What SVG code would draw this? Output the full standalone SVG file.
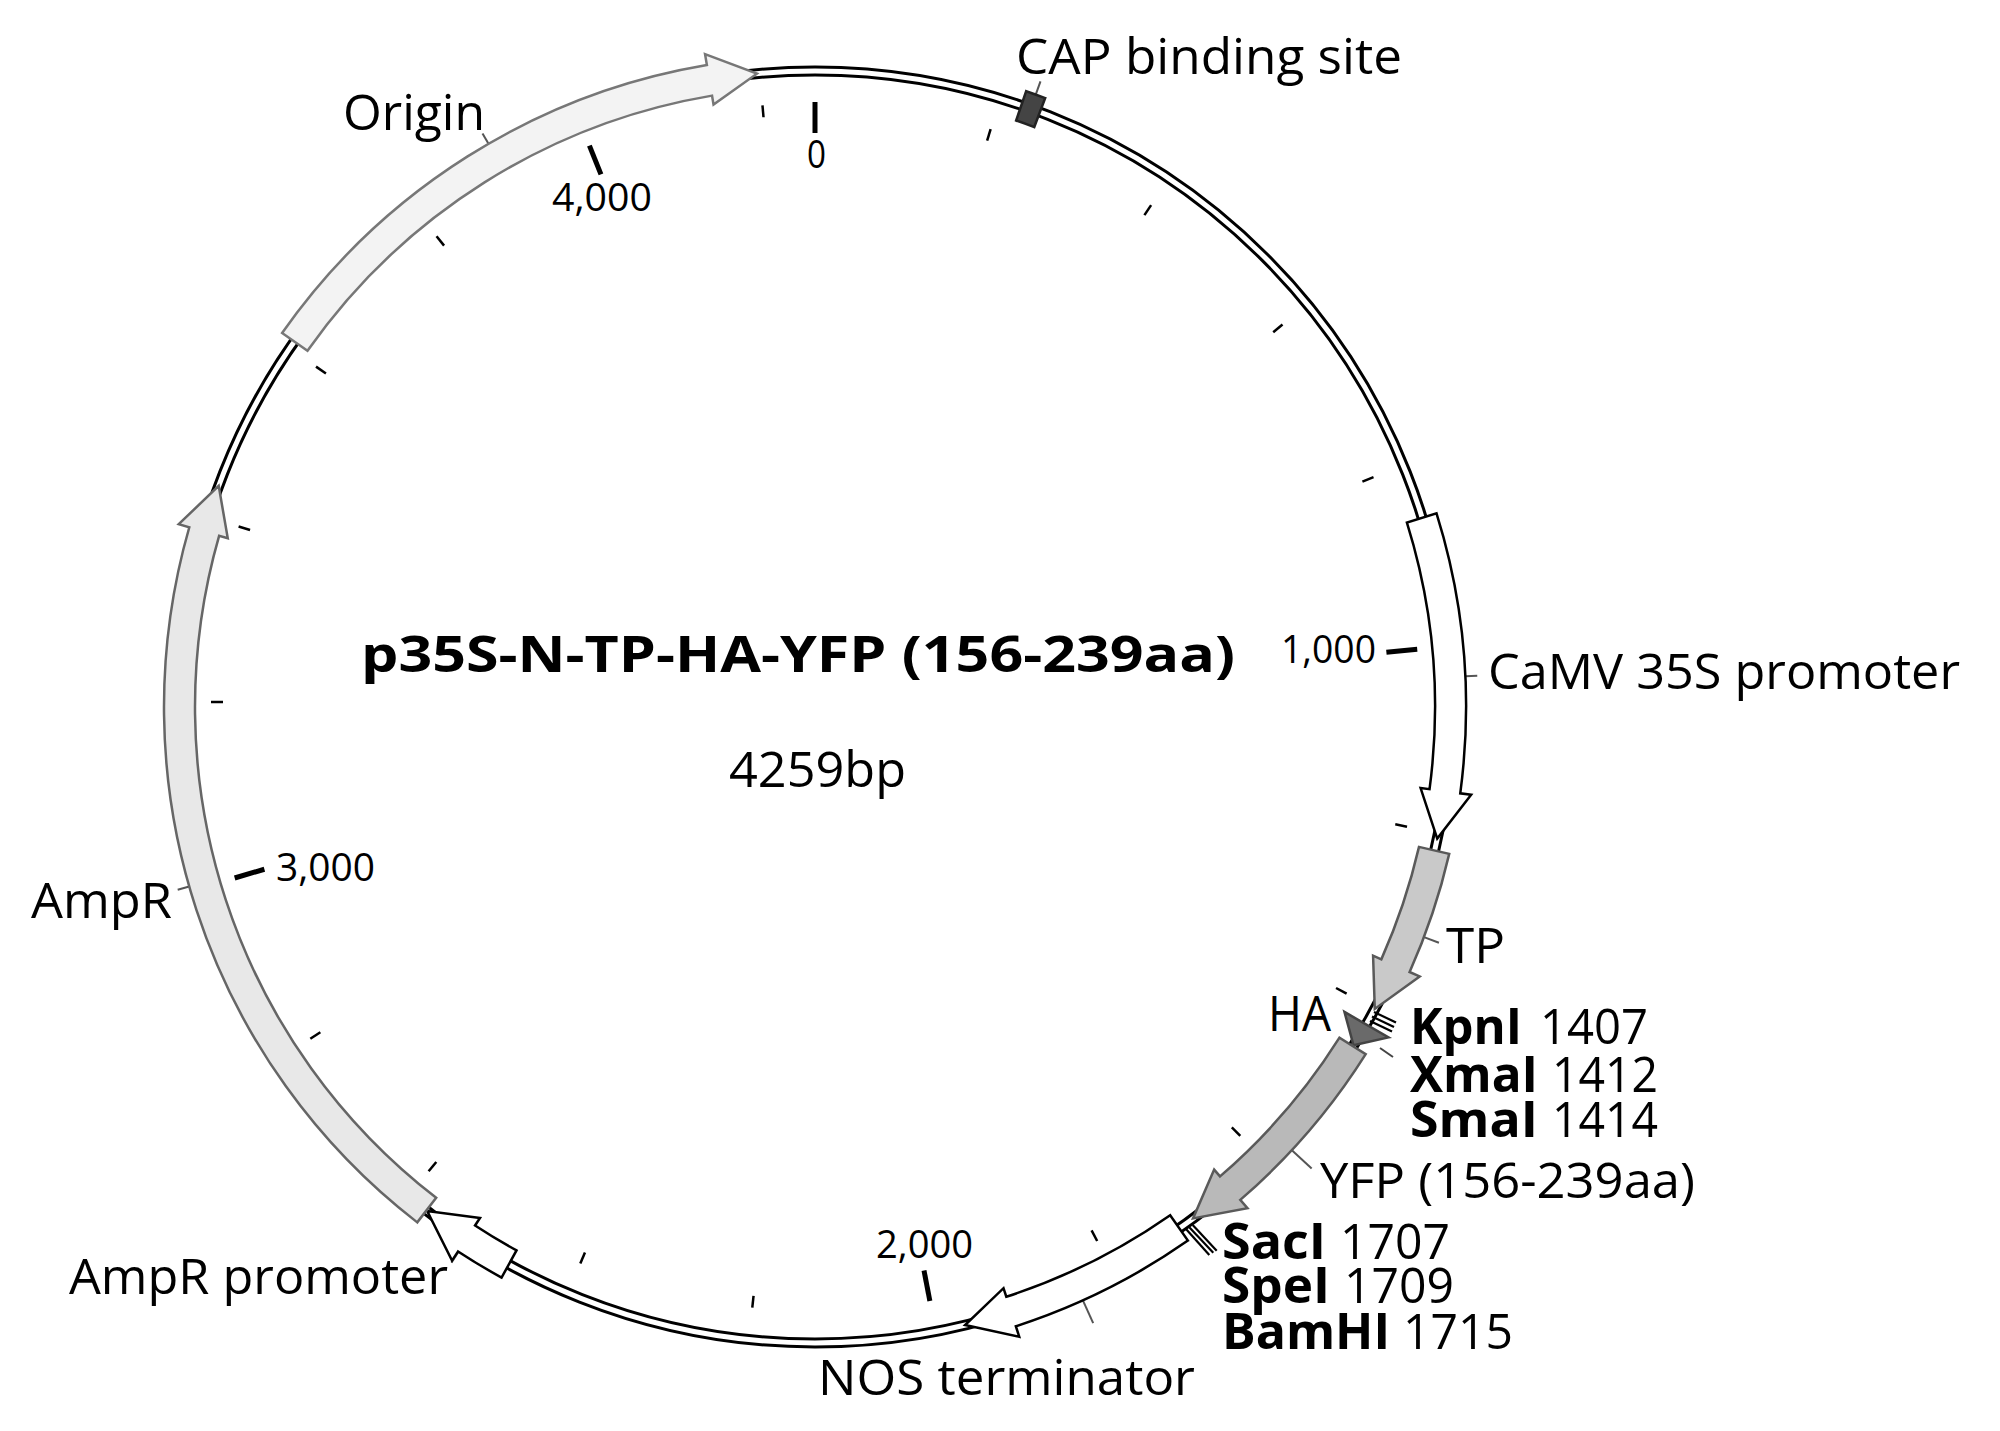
<svg xmlns="http://www.w3.org/2000/svg" width="2000" height="1431" viewBox="0 0 2000 1431">
<style>
text{font-family:"Open Sans","Noto Sans","Liberation Sans",sans-serif;fill:#000}
.lbl{font-size:50px}
.tk{font-size:38px}
.b{font-weight:bold}
.feat{stroke-width:2.5;stroke-linejoin:miter;stroke-miterlimit:10}
.mi{stroke:#000;stroke-width:2.5}
.ma{stroke:#000;stroke-width:5}
.ld{stroke:#555;stroke-width:2}
.cut{stroke:#000;stroke-width:2.2}
</style>
<rect width="2000" height="1431" fill="#fff"/>
<g id="backbone">
<circle cx="815" cy="707" r="636" fill="none" stroke="#000" stroke-width="11"/>
<circle cx="815" cy="707" r="636" fill="none" stroke="#fff" stroke-width="5"/>
</g>
<g id="ticks">
<line class="mi" x1="815" y1="103" x2="815" y2="115" transform="rotate(16.905 815 707)"/>
<line class="mi" x1="815" y1="103" x2="815" y2="115" transform="rotate(33.811 815 707)"/>
<line class="mi" x1="815" y1="103" x2="815" y2="115" transform="rotate(50.716 815 707)"/>
<line class="mi" x1="815" y1="103" x2="815" y2="115" transform="rotate(67.622 815 707)"/>
<line class="mi" x1="815" y1="103" x2="815" y2="115" transform="rotate(101.432 815 707)"/>
<line class="mi" x1="815" y1="103" x2="815" y2="115" transform="rotate(118.338 815 707)"/>
<line class="mi" x1="815" y1="103" x2="815" y2="115" transform="rotate(135.243 815 707)"/>
<line class="mi" x1="815" y1="103" x2="815" y2="115" transform="rotate(152.148 815 707)"/>
<line class="mi" x1="815" y1="103" x2="815" y2="115" transform="rotate(185.959 815 707)"/>
<line class="mi" x1="815" y1="103" x2="815" y2="115" transform="rotate(202.865 815 707)"/>
<line class="mi" x1="815" y1="103" x2="815" y2="115" transform="rotate(219.770 815 707)"/>
<line class="mi" x1="815" y1="103" x2="815" y2="115" transform="rotate(236.675 815 707)"/>
<line class="mi" x1="815" y1="103" x2="815" y2="115" transform="rotate(270.486 815 707)"/>
<line class="mi" x1="815" y1="103" x2="815" y2="115" transform="rotate(287.391 815 707)"/>
<line class="mi" x1="815" y1="103" x2="815" y2="115" transform="rotate(304.297 815 707)"/>
<line class="mi" x1="815" y1="103" x2="815" y2="115" transform="rotate(321.202 815 707)"/>
<line class="mi" x1="815" y1="103" x2="815" y2="115" transform="rotate(355.011 815 707)"/>
<line class="ma" x1="815" y1="102" x2="815" y2="133"/>
<line class="ma" x1="815" y1="102" x2="815" y2="133" transform="rotate(84.527 815 707)"/>
<line class="ma" x1="815" y1="102" x2="815" y2="133" transform="rotate(169.054 815 707)"/>
<line class="ma" x1="815" y1="102" x2="815" y2="133" transform="rotate(253.581 815 707)"/>
<line class="ma" x1="815" y1="102" x2="815" y2="133" transform="rotate(338.107 815 707)"/>
<text class="tk" x="807" y="168" textLength="19" lengthAdjust="spacingAndGlyphs">0</text>
<text class="tk" x="1281" y="663" textLength="95" lengthAdjust="spacingAndGlyphs">1,000</text>
<text class="tk" x="876" y="1258" textLength="97" lengthAdjust="spacingAndGlyphs">2,000</text>
<text class="tk" x="276" y="881" textLength="99" lengthAdjust="spacingAndGlyphs">3,000</text>
<text class="tk" x="552" y="211" textLength="100" lengthAdjust="spacingAndGlyphs">4,000</text>
</g>
<g id="leaders">
<line class="ld" x1="815" y1="56" x2="815" y2="44" transform="rotate(329.9 815 707)"/>
<line class="ld" x1="815" y1="56" x2="815" y2="44" transform="rotate(254.0 815 707)"/>
<line class="ld" x1="815" y1="56" x2="815" y2="43" transform="rotate(213.2 815 707)"/>
<line class="ld" x1="815" y1="56" x2="815" y2="31" transform="rotate(155.7 815 707)"/>
<line class="ld" x1="815" y1="56" x2="815" y2="29" transform="rotate(132.9 815 707)"/>
<line class="ld" x1="815" y1="56" x2="815" y2="40" transform="rotate(110.7 815 707)"/>
<line class="ld" x1="815" y1="56" x2="815" y2="44" transform="rotate(87.3 815 707)"/>
<line class="ld" x1="815" y1="56" x2="815" y2="42" transform="rotate(19.82 815 707)"/>
<line x1="1380" y1="1048" x2="1393" y2="1057" stroke="#444" stroke-width="2"/>
</g>
<g id="cap-binding-site">
<path class="feat" d="M815,56 A651,651 0 0 1 835.22,56.31 L834.26,87.30 A620,620 0 0 0 815,87 Z" fill="#444" stroke="#222" transform="rotate(18.93 815 707)"/>
<text class="lbl" x="1016" y="74" textLength="386" lengthAdjust="spacingAndGlyphs">CAP binding site</text>
</g>
<g id="camv-35s-promoter">
<path class="feat" d="M540.60,116.65 A651,651 0 0 1 815,56 L815,45 L862.91,72.81 L815,96 L815,87 A620,620 0 0 0 553.66,144.77 Z" fill="#fff" stroke="#000" transform="rotate(97.62 815 707)"/>
<text class="lbl" x="1488" y="689" textLength="472" lengthAdjust="spacingAndGlyphs">CaMV 35S promoter</text>
</g>
<g id="tp">
<path class="feat" d="M691.00,67.91 A651,651 0 0 1 815,56 L815,45 L862.91,72.81 L815,96 L815,87 A620,620 0 0 0 696.91,98.35 Z" fill="#c9c9c9" stroke="#5a5a5a" transform="rotate(114.02 815 707)"/>
<text class="lbl" x="1446" y="963" textLength="59" lengthAdjust="spacingAndGlyphs">TP</text>
</g>
<g id="ha">
<path class="feat" d="M815,45 L839.41,71.47 L815,96 Z" fill="#6a6a6a" stroke="#444" transform="rotate(119.94 815 707)"/>
<text class="lbl" x="1268" y="1031" textLength="63" lengthAdjust="spacingAndGlyphs">HA</text>
</g>
<g id="yfp">
<path class="feat" d="M624.88,84.38 A651,651 0 0 1 815,56 L815,45 L862.91,72.81 L815,96 L815,87 A620,620 0 0 0 633.94,114.03 Z" fill="#b9b9b9" stroke="#5a5a5a" transform="rotate(139.21 815 707)"/>
<text class="lbl" x="1320" y="1198" textLength="375" lengthAdjust="spacingAndGlyphs">YFP (156-239aa)</text>
</g>
<g id="nos-terminator">
<path class="feat" d="M624.88,84.38 A651,651 0 0 1 815,56 L815,45 L862.91,72.81 L815,96 L815,87 A620,620 0 0 0 633.94,114.03 Z" fill="#fff" stroke="#000" transform="rotate(162.03 815 707)"/>
<text class="lbl" x="818" y="1395" textLength="377" lengthAdjust="spacingAndGlyphs">NOS terminator</text>
</g>
<g id="ampr-promoter">
<path class="feat" d="M764.26,57.98 A651,651 0 0 1 815,56 L815,45 L862.91,72.81 L815,96 L815,87 A620,620 0 0 0 766.68,88.89 Z" fill="#fff" stroke="#000" transform="rotate(213.25 815 707)"/>
<text class="lbl" x="69" y="1294" textLength="379" lengthAdjust="spacingAndGlyphs">AmpR promoter</text>
</g>
<g id="ampr">
<path class="feat" d="M209.83,467.03 A651,651 0 0 1 815,56 L815,45 L862.91,72.81 L815,96 L815,87 A620,620 0 0 0 238.65,478.46 Z" fill="#e8e8e8" stroke="#666" transform="rotate(286.03 815 707)"/>
<text class="lbl" x="31" y="918" textLength="141" lengthAdjust="spacingAndGlyphs">AmpR</text>
</g>
<g id="origin">
<path class="feat" d="M351.62,249.72 A651,651 0 0 1 815,56 L815,45 L862.91,72.81 L815,96 L815,87 A620,620 0 0 0 373.68,271.50 Z" fill="#f3f3f3" stroke="#777" transform="rotate(350.44 815 707)"/>
<text class="lbl" x="343" y="130" textLength="142" lengthAdjust="spacingAndGlyphs">Origin</text>
</g>
<g id="sites-kpni-xmai-smai">
<line class="cut" x1="1374" y1="1012" x2="1396" y2="1022.5"/>
<line class="cut" x1="1372" y1="1016.5" x2="1394" y2="1027"/>
<line class="cut" x1="1370" y1="1021" x2="1392" y2="1031.5"/>
<text class="lbl b" x="1410" y="1044" textLength="112" lengthAdjust="spacingAndGlyphs">KpnI</text>
<text class="lbl" x="1540" y="1044" textLength="108" lengthAdjust="spacingAndGlyphs">1407</text>
<text class="lbl b" x="1410" y="1092" textLength="128" lengthAdjust="spacingAndGlyphs">XmaI</text>
<text class="lbl" x="1552" y="1092" textLength="106" lengthAdjust="spacingAndGlyphs">1412</text>
<text class="lbl b" x="1410" y="1137" textLength="128" lengthAdjust="spacingAndGlyphs">SmaI</text>
<text class="lbl" x="1552" y="1137" textLength="106" lengthAdjust="spacingAndGlyphs">1414</text>
</g>
<g id="sites-saci-spei-bamhi">
<line class="cut" x1="1186" y1="1229" x2="1209.3" y2="1255"/>
<line class="cut" x1="1189.3" y1="1227.3" x2="1213.3" y2="1252.7"/>
<line class="cut" x1="1192.7" y1="1225" x2="1216.7" y2="1250.7"/>
<text class="lbl b" x="1222" y="1259" textLength="104" lengthAdjust="spacingAndGlyphs">SacI</text>
<text class="lbl" x="1340" y="1259" textLength="110" lengthAdjust="spacingAndGlyphs">1707</text>
<text class="lbl b" x="1222" y="1303" textLength="108" lengthAdjust="spacingAndGlyphs">SpeI</text>
<text class="lbl" x="1344" y="1303" textLength="110" lengthAdjust="spacingAndGlyphs">1709</text>
<text class="lbl b" x="1222" y="1349" textLength="168" lengthAdjust="spacingAndGlyphs">BamHI</text>
<text class="lbl" x="1403" y="1349" textLength="110" lengthAdjust="spacingAndGlyphs">1715</text>
</g>
<g id="title">
<text class="b" x="361" y="672" font-size="51" textLength="874" lengthAdjust="spacingAndGlyphs">p35S-N-TP-HA-YFP (156-239aa)</text>
<text x="729" y="787" font-size="50" textLength="177" lengthAdjust="spacingAndGlyphs">4259bp</text>
</g>
</svg>
